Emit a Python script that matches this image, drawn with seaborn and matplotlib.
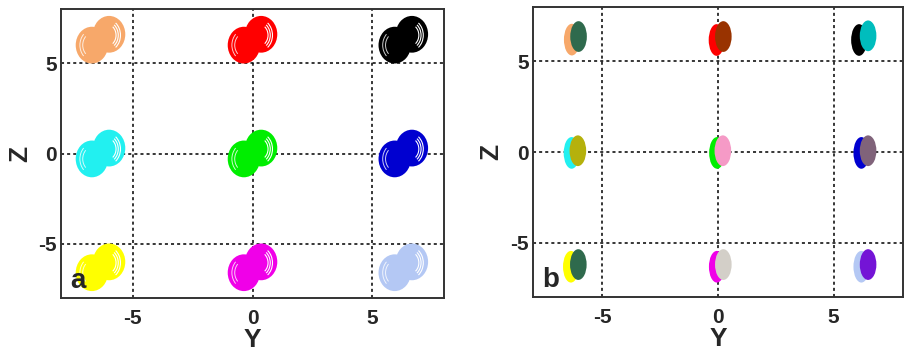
import numpy as np
import pandas as pd
import matplotlib
matplotlib.use("Agg")
import matplotlib.pyplot as plt
import seaborn as sns
from matplotlib.path import Path
from matplotlib.patches import Arc

# ---------------- data ----------------
# panel a: cluster centres (Y, Z) and colours
a_y = [-6.35, 0.0, 6.3, -6.35, 0.0, 6.3, -6.35, 0.0, 6.3]
a_z = [6.3, 6.3, 6.3, 0.0, 0.0, 0.0, -6.3, -6.3, -6.3]
a_colors = ['#F7A86A', '#FF0000', '#000000', '#22F0F0', '#00EE00',
            '#0000D0', '#FFFF00', '#F000E8', '#B4C8F4']
# offsets of the two lobes of each attractor (lower-left, upper-right)
lobe_dy = [-0.36, 0.36]
lobe_dz = [-0.30, 0.30]

# panel b: back (original) and front (new) clusters
b_back_y = [-6.32, -0.06, 6.10, -6.33, -0.04, 6.20, -6.36, -0.05, 6.20]
b_back_z = [6.20, 6.18, 6.18, -0.05, -0.05, -0.05, -6.33, -6.33, -6.33]
b_front_y = [-6.03, 0.23, 6.49, -6.06, 0.21, 6.49, -6.04, 0.23, 6.49]
b_front_z = [6.37, 6.37, 6.41, 0.07, 0.07, 0.07, -6.21, -6.21, -6.21]
b_front_colors = ['#2F6A4D', '#993300', '#00BDBD', '#B5B10C', '#F59AC6',
                  '#80637A', '#2F6A4D', '#D3CFC8', '#7414D6']

tick_vals = [-5, 0, 5]
panel_labels = ['a', 'b']
x_label = 'Y'
y_label = 'Z'

# ---------------- styling ----------------
sns.set_style("white")
plt.rcParams['font.family'] = ['Liberation Sans', 'DejaVu Sans']
plt.rcParams['font.weight'] = 'bold'


def ellipse_marker(aspect):
    c = Path.unit_circle()
    v = c.vertices * np.array([aspect, 1.0])
    return Path(v, c.codes)


fig = plt.figure(figsize=(9.06, 3.51), dpi=100)
ax_a = fig.add_axes([61 / 906, 1 - 298 / 351, 383 / 906, 289 / 351])
ax_b = fig.add_axes([533 / 906, 1 - 297 / 351, 370 / 906, 290 / 351])

# ---- panel a ----
rows = []
for i, (cy, cz) in enumerate(zip(a_y, a_z)):
    for dy, dz in zip(lobe_dy, lobe_dz):
        rows.append({'Y': cy + dy, 'Z': cz + dz, 'cluster': f'c{i}'})
df_a = pd.DataFrame(rows)
pal_a = {f'c{i}': c for i, c in enumerate(a_colors)}
sns.scatterplot(data=df_a, x='Y', y='Z', hue='cluster', palette=pal_a,
                marker=ellipse_marker(0.88), s=700, linewidth=0,
                legend=False, ax=ax_a, zorder=3)
# white ring traces inside the attractors
lw_, lh_ = 1.32, 2.0
for cy, cz in zip(a_y, a_z):
    for k in (0.9, 0.76, 0.62):
        ax_a.add_patch(Arc((cy + lobe_dy[1] - 0.12, cz + lobe_dz[1] - 0.05),
                           lw_ * k, lh_ * k, theta1=-60, theta2=60,
                           color='white', lw=0.8, zorder=4))
    for k in (0.88, 0.7):
        ax_a.add_patch(Arc((cy + lobe_dy[0] + 0.08, cz + lobe_dz[0]),
                           lw_ * k, lh_ * k, theta1=125, theta2=235,
                           color='white', lw=0.7, alpha=0.8, zorder=4))

# ---- panel b ----
df_back = pd.DataFrame({'Y': b_back_y, 'Z': b_back_z,
                        'cluster': [f'c{i}' for i in range(9)]})
df_front = pd.DataFrame({'Y': b_front_y, 'Z': b_front_z,
                         'cluster': [f'f{i}' for i in range(9)]})
pal_f = {f'f{i}': c for i, c in enumerate(b_front_colors)}
sns.scatterplot(data=df_back, x='Y', y='Z', hue='cluster', palette=pal_a,
                marker=ellipse_marker(0.50), s=520, linewidth=0,
                legend=False, ax=ax_b, zorder=3)
sns.scatterplot(data=df_front, x='Y', y='Z', hue='cluster', palette=pal_f,
                marker=ellipse_marker(0.54), s=490, linewidth=0,
                legend=False, ax=ax_b, zorder=4)

# ---- common axes styling ----
for ax, lab, zx in ((ax_a, panel_labels[0], -0.076), (ax_b, panel_labels[1], -0.081)):
    ax.set_xlim(-8, 8)
    ax.set_ylim(-8, 8)
    ax.set_xticks(tick_vals)
    ax.set_yticks(tick_vals)
    ax.set_xticklabels([str(t) for t in tick_vals])
    ax.set_yticklabels([str(t) for t in tick_vals])
    ax.tick_params(axis='both', length=0, labelsize=15)
    ax.tick_params(axis='x', pad=8)
    ax.tick_params(axis='y', pad=3)
    ax.set_axisbelow(True)
    ax.grid(True, color='black', linestyle=(0, (2, 2)), linewidth=1.1)
    for sp in ax.spines.values():
        sp.set_color('#333333')
        sp.set_linewidth(1.4)
    ax.set_xlabel(x_label, fontsize=19, fontweight='bold')
    ax.set_ylabel(y_label, fontsize=19, fontweight='bold')
    ax.xaxis.set_label_coords(0.5, -0.105)
    ax.yaxis.set_label_coords(zx, 0.5)
    ax.text(0.025, 0.015, lab, transform=ax.transAxes, fontsize=20,
            fontweight='bold', ha='left', va='bottom', zorder=6)

fig.savefig('out.png', dpi=100)
